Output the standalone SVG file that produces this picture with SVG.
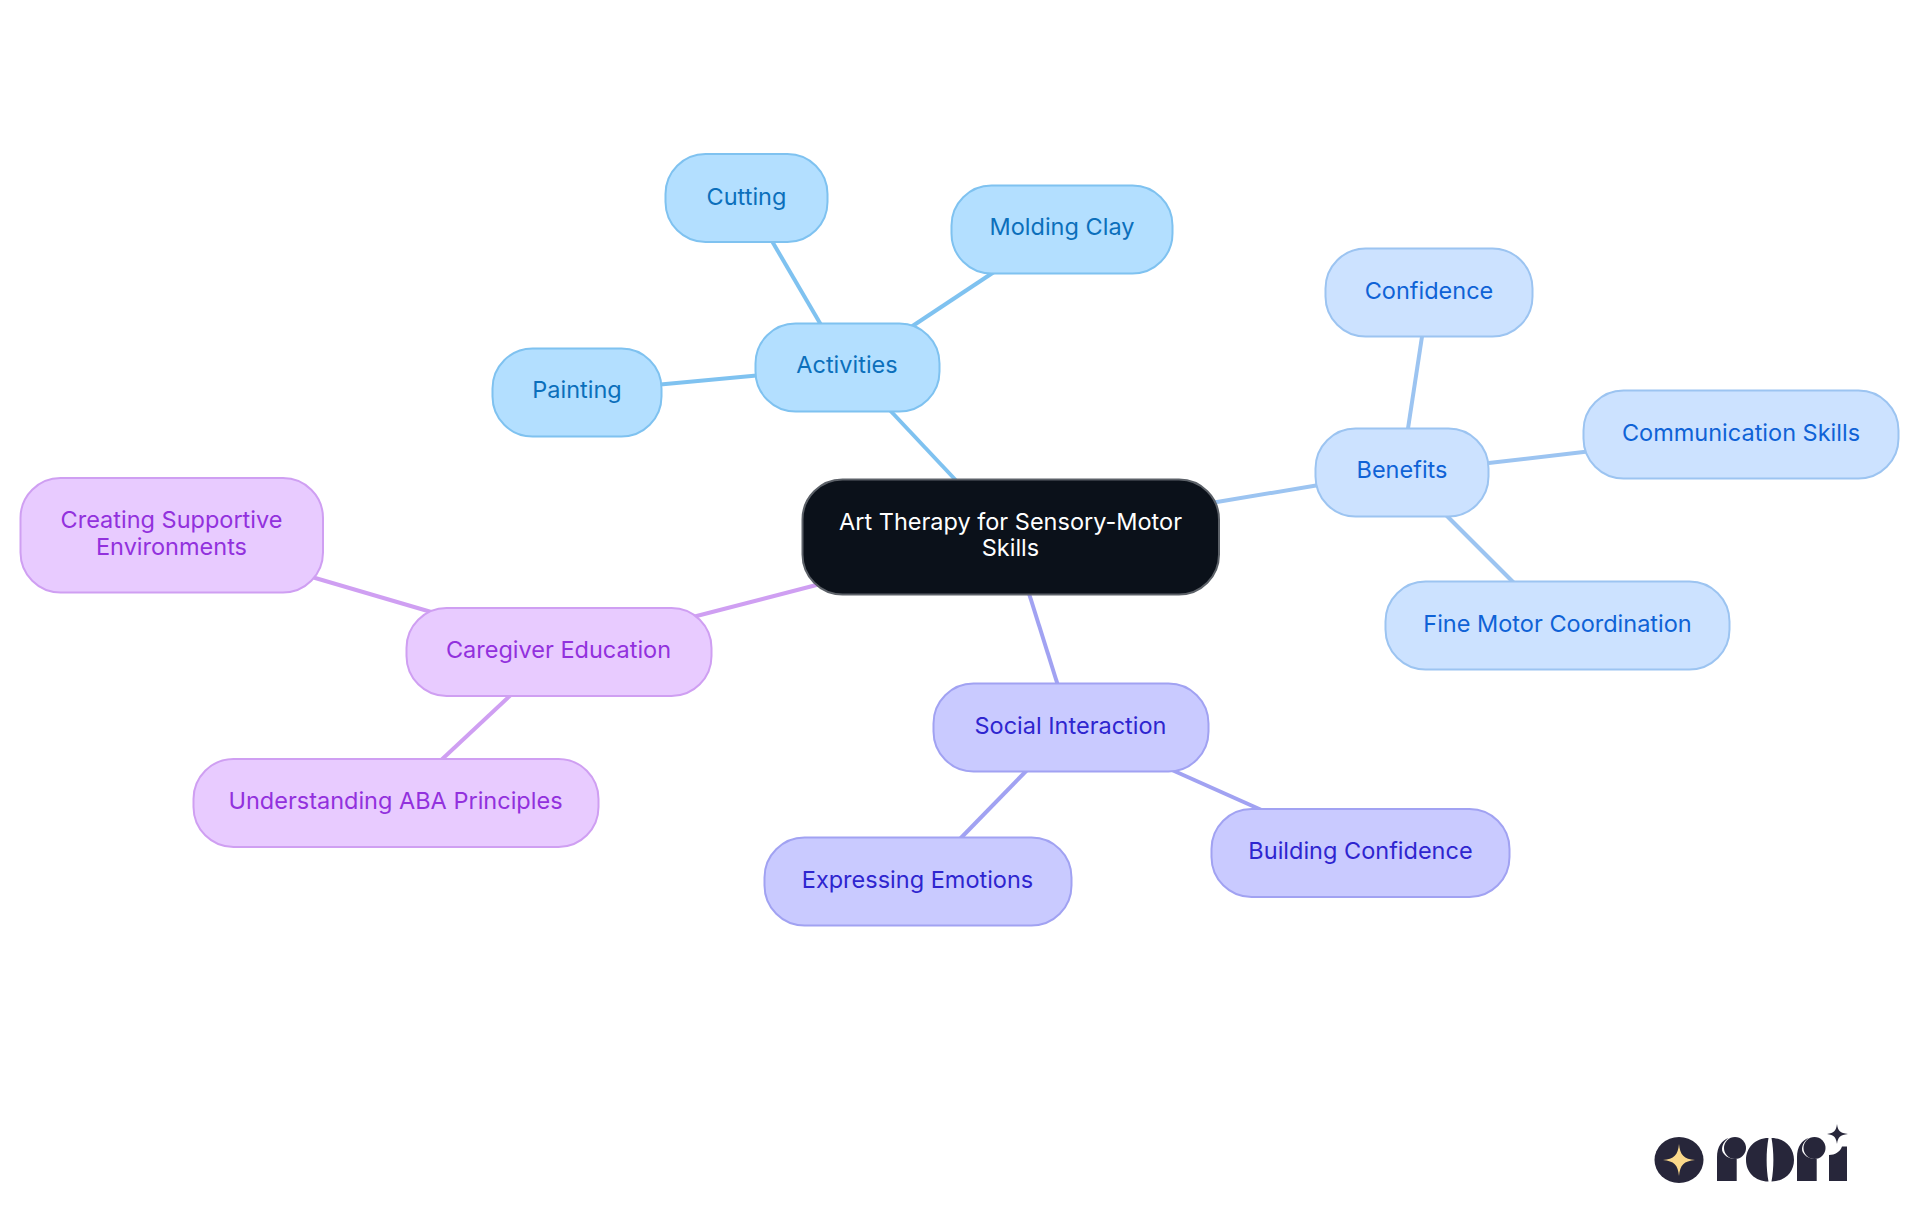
<svg xmlns="http://www.w3.org/2000/svg" width="1920" height="1215" viewBox="0 0 1920 1215">
<style>
text{font-family:"Inter","Noto Sans","Liberation Sans",sans-serif;font-size:23.5px;text-anchor:middle}
rect{stroke-width:2}
line{stroke-width:4;fill:none}
.a rect{fill:#b3dfff;stroke:#7fc2f0}.a text{fill:#0b6fbb}
.b rect{fill:#cce2ff;stroke:#9cc4f1}.b text{fill:#0f62d6}
.s rect{fill:#c9caff;stroke:#a1a2f2}.s text{fill:#2e25cf}
.c rect{fill:#e8cbff;stroke:#cf9ff2}.c text{fill:#9231dd}
.r rect{fill:#0b111a;stroke:#5c6168}.r text{fill:#fff}
.la{stroke:#7fc2f0}.lb{stroke:#9cc4f1}.ls{stroke:#a1a2f2}.lc{stroke:#cf9ff2}
.d{fill:#27263a}
</style>
<rect width="1920" height="1215" fill="#fff" style="stroke:none"/>
<g id="connectors">
<line class="la" x1="965" y1="490" x2="885" y2="405"/>
<line class="la" x1="824" y1="330" x2="769" y2="236"/>
<line class="la" x1="905" y1="331" x2="1000" y2="268"/>
<line class="la" x1="762" y1="375" x2="655" y2="385"/>
<line class="lb" x1="1205" y1="504" x2="1325" y2="484"/>
<line class="lb" x1="1407" y1="435" x2="1423" y2="330"/>
<line class="lb" x1="1480" y1="464" x2="1592" y2="451"/>
<line class="lb" x1="1441" y1="510" x2="1517" y2="586"/>
<line class="ls" x1="1026" y1="584" x2="1060" y2="692"/>
<line class="ls" x1="1163" y1="766" x2="1266" y2="812"/>
<line class="ls" x1="1032" y1="765" x2="955" y2="844"/>
<line class="lc" x1="828" y1="582" x2="685" y2="619"/>
<line class="lc" x1="305" y1="575" x2="438" y2="614"/>
<line class="lc" x1="515" y1="691" x2="437" y2="764"/>
</g>
<g id="root" class="r"><rect x="802.500" y="479.500" width="416.500" height="115" rx="40"/><text x="1010.500" y="530">Art Therapy for Sensory-Motor</text><text x="1010.500" y="556">Skills</text></g>
<g id="activities" class="a"><rect x="755.500" y="323.500" width="184" height="88" rx="40"/><text x="847" y="372.700">Activities</text></g>
<g id="cutting" class="a"><rect x="665.500" y="154" width="162" height="88" rx="40"/><text x="746.500" y="205">Cutting</text></g>
<g id="molding-clay" class="a"><rect x="951.500" y="185.500" width="221" height="88" rx="40"/><text x="1062" y="235">Molding Clay</text></g>
<g id="painting" class="a"><rect x="492.500" y="348.500" width="169" height="88" rx="40"/><text x="577" y="398">Painting</text></g>
<g id="benefits" class="b"><rect x="1315.500" y="428.500" width="173" height="88" rx="40"/><text x="1402" y="477.700">Benefits</text></g>
<g id="confidence" class="b"><rect x="1325.500" y="248.500" width="207" height="88" rx="40"/><text x="1429" y="299">Confidence</text></g>
<g id="communication-skills" class="b"><rect x="1583.500" y="390.500" width="315" height="88" rx="40"/><text x="1741" y="441">Communication Skills</text></g>
<g id="fine-motor" class="b"><rect x="1385.500" y="581.500" width="344" height="88" rx="40"/><text x="1557.500" y="632">Fine Motor Coordination</text></g>
<g id="social" class="s"><rect x="933.500" y="683.500" width="275" height="88" rx="40"/><text x="1070.500" y="734">Social Interaction</text></g>
<g id="building" class="s"><rect x="1211.500" y="809" width="298" height="88" rx="40"/><text x="1360.500" y="859">Building Confidence</text></g>
<g id="expressing" class="s"><rect x="764.500" y="837.500" width="307" height="88" rx="40"/><text x="917.500" y="888">Expressing Emotions</text></g>
<g id="caregiver" class="c"><rect x="406.500" y="608" width="305" height="88" rx="40"/><text x="558.500" y="658">Caregiver Education</text></g>
<g id="creating" class="c"><rect x="20.500" y="478" width="302.500" height="114.500" rx="40"/><text x="171.500" y="528">Creating Supportive</text><text x="171.500" y="555">Environments</text></g>
<g id="understanding" class="c"><rect x="193.500" y="759" width="405" height="88" rx="40"/><text x="395.500" y="809">Understanding ABA Principles</text></g>
<g id="logo">
<ellipse class="d" cx="1679" cy="1160" rx="24.500" ry="23"/>
<path d="M1679 1144C1680 1155 1684 1159 1695 1160C1684 1161 1680 1165 1679 1176C1678 1165 1674 1161 1663 1160C1674 1159 1678 1155 1679 1144Z" fill="#fbd98a"/>
<path class="d" d="M1717 1181V1157C1717 1147 1722 1140 1728.500 1138C1722.500 1142 1720 1150 1724 1154C1727 1158 1732 1159 1736.700 1159V1181Z"/>
<circle class="d" cx="1735" cy="1148" r="11"/>
<path class="d" d="M1768.500 1138C1755 1138 1746 1148 1746 1160C1746 1172 1755 1181.500 1768.500 1181.500C1766 1168 1766 1152 1768.500 1138ZM1771.500 1138C1785 1138 1794 1148 1794 1160C1794 1172 1785 1181.500 1771.500 1181.500C1774 1168 1774 1152 1771.500 1138Z"/>
<path class="d" d="M1797 1181V1157C1797 1147 1802 1140 1808.500 1138C1802.500 1142 1800 1150 1804 1154C1807 1158 1812 1159 1816.700 1159V1181Z"/>
<circle class="d" cx="1814.500" cy="1148" r="11"/>
<path class="d" d="M1829 1181V1155C1835 1155 1840 1152 1842 1146.500H1847V1181Z"/>
<path class="d" d="M1837 1124C1838 1131 1840 1133 1848 1134C1840 1135 1838 1137 1837 1144C1836 1137 1834 1135 1827 1134C1834 1133 1836 1131 1837 1124Z"/>
</g>
</svg>
